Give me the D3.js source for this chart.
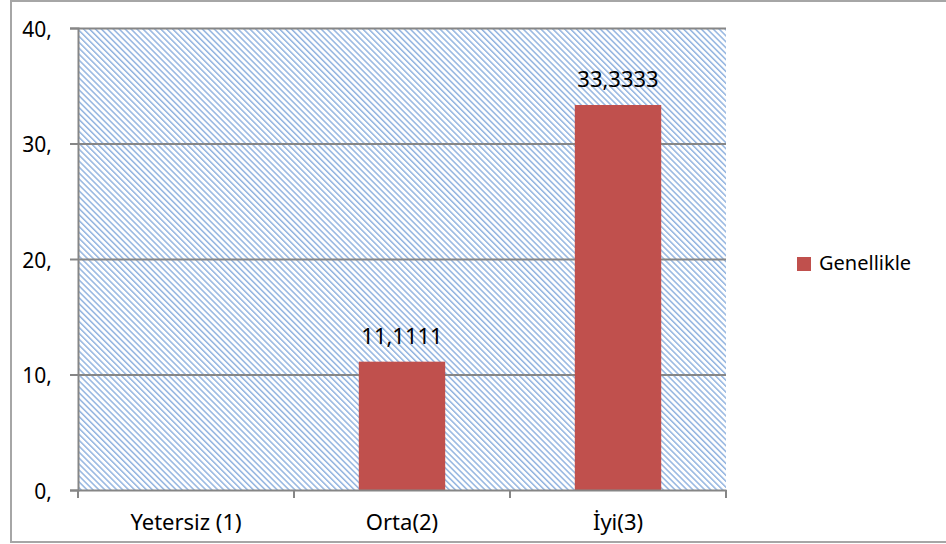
<!DOCTYPE html>
<html>
<head>
<meta charset="utf-8">
<script src="https://cdn.jsdelivr.net/npm/d3@7"></script>
<style>
  body { margin: 0; background: #fff; }
  text { font-family: "Noto Sans", "DejaVu Sans", sans-serif; fill: #000; }
</style>
</head>
<body>
<div class="wrapper"></div>
<script>
// data
var categories = ['Yetersiz (1)', 'Orta(2)', 'İyi(3)'];
var values     = [null, 11.1111, 33.3333];
var yTicks     = [0, 10, 20, 30, 40];
var seriesName = 'Genellikle';

var W = 946, H = 544;
var plot = {left: 78, top: 28, right: 726, bottom: 490};

var svg = d3.select('.wrapper').append('svg')
            .attr('width', W)
            .attr('height', H);

// hatch pattern for the plot area
var defs = svg.append('defs');
var pat = defs.append('pattern')
              .attr('id', 'hatch')
              .attr('patternUnits', 'userSpaceOnUse')
              .attr('width', 4.2)
              .attr('height', 4.2)
              .attr('patternTransform', 'rotate(-45)');
pat.append('rect').attr('width', 4.2).attr('height', 4.2).attr('fill', '#fff');
pat.append('rect').attr('width', 1.5).attr('height', 4.2).attr('fill', '#93b4e0');

// outer frame
svg.append('path')
   .attr('d', 'M' + (W + 2) + ',1 H11 V542 H' + (W + 2))
   .attr('fill', 'none')
   .attr('stroke', '#a6a6a6')
   .attr('stroke-width', 2);

var x = d3.scaleBand()
          .domain(categories)
          .range([plot.left, plot.right])
          .paddingInner(0.6)
          .paddingOuter(0.3);

var xOuter = d3.scaleBand().domain(categories).range([plot.left, plot.right]);

var y = d3.scaleLinear()
          .domain([0, 40])
          .range([plot.bottom, plot.top]);

svg.append('rect')
   .attr('x', plot.left).attr('y', plot.top)
   .attr('width', plot.right - plot.left)
   .attr('height', plot.bottom - plot.top)
   .attr('fill', 'url(#hatch)');

// gridlines
svg.append('g').selectAll('line')
   .data(yTicks.slice(1))
   .enter().append('line')
   .attr('x1', plot.left).attr('x2', plot.right)
   .attr('y1', d => y(d) + 0.5).attr('y2', d => y(d) + 0.5)
   .attr('stroke', '#868686')
   .attr('stroke-width', 2);

var barData = values.map((v, i) => ({cat: categories[i], v: v})).filter(d => d.v != null);

// bars
svg.append('g').selectAll('rect')
   .data(barData)
   .enter().append('rect')
   .attr('x', d => x(d.cat))
   .attr('y', d => y(d.v))
   .attr('width', x.bandwidth())
   .attr('height', d => y(0) - y(d.v))
   .attr('fill', '#c0504d');

// value labels
svg.append('g').selectAll('text')
   .data(barData)
   .enter().append('text')
   .attr('x', d => x(d.cat) + x.bandwidth() / 2)
   .attr('y', d => y(d.v) - 18)
   .attr('text-anchor', 'middle')
   .style('font-size', '22px')
   .text(d => d3.format('.4f')(d.v).replace('.', ','));

// y axis
var yAxis = d3.axisLeft(y)
              .tickValues(yTicks)
              .tickSize(8)
              .tickPadding(18)
              .tickFormat(d => d + ',');
var gy = svg.append('g')
            .attr('transform', 'translate(' + plot.left + ',0)')
            .call(yAxis);
gy.select('.domain').attr('stroke', '#868686').attr('stroke-width', 2);
gy.selectAll('.tick line').attr('stroke', '#868686').attr('stroke-width', 2);
gy.selectAll('.tick text').style('font-size', '21px').attr('fill', '#000').attr('dy', '0.4em');

// x axis
var xAxis = d3.axisBottom(xOuter).tickSize(0).tickPadding(0);
var gx = svg.append('g')
            .attr('transform', 'translate(0,' + plot.bottom + ')')
            .call(xAxis);
gx.select('.domain').attr('stroke', '#868686').attr('stroke-width', 2);
gx.selectAll('.tick text').style('font-size', '22px').attr('fill', '#000')
  .attr('y', 40).attr('dy', 0);
gx.selectAll('.sep')
  .data(categories.concat(['end']))
  .enter().append('line')
  .attr('class', 'sep')
  .attr('x1', (d, i) => i < categories.length ? xOuter(d) : plot.right)
  .attr('x2', (d, i) => i < categories.length ? xOuter(d) : plot.right)
  .attr('y1', 0).attr('y2', 8)
  .attr('stroke', '#868686').attr('stroke-width', 2);

// legend
var lg = svg.append('g').attr('transform', 'translate(797,257)');
lg.append('rect').attr('width', 14).attr('height', 14).attr('fill', '#c0504d');
lg.append('text').attr('x', 22).attr('y', 13).style('font-size', '20px').text(seriesName);
</script>
</body>
</html>
